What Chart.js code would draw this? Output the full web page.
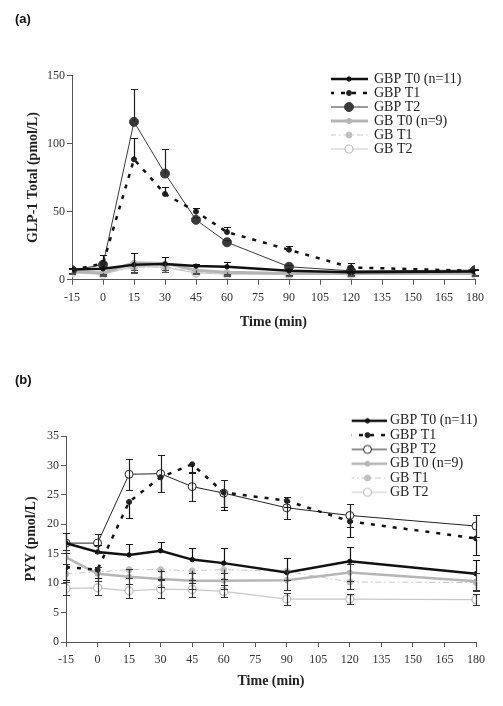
<!DOCTYPE html>
<html><head><meta charset="utf-8">
<script src="https://cdn.jsdelivr.net/npm/chart.js@4.4.1/dist/chart.umd.min.js"></script>
<style>
html,body{margin:0;padding:0;background:#fff;}
#wrap{position:relative;width:503px;height:706px;overflow:hidden;background:#fff;}
.box{position:absolute;left:0;width:503px;}
#boxA{top:0;height:340px;}
#boxB{top:340px;height:366px;}
canvas{display:block;}
</style></head><body>
<div id="wrap">
<div class="box" id="boxA"><canvas id="cA" width="503" height="340"></canvas></div>
<div class="box" id="boxB"><canvas id="cB" width="503" height="366"></canvas></div>
</div>
<script>
// ---- Data ----
const times = [-15, 0, 15, 30, 45, 60, 90, 120, 180];
const seriesLabels = ['GBP T0 (n=11)', 'GBP T1', 'GBP T2', 'GB T0 (n=9)', 'GB T1', 'GB T2'];

// (a) GLP-1 Total (pmol/L)
const glpGbpT0 = [7.5, 8, 11, 11.5, 10, 9.5, 6.5, 5.5, 6];
const glpGbpT1 = [7, 12, 88.5, 63, 50, 35, 22, 9, 6.5];
const glpGbpT2 = [7, 11, 116, 78, 44, 27.5, 9.5, 6.5, 7];
const glpGbT0  = [6, 5, 12.5, 12, 7, 5.5, 4.5, 4.5, 4.5];
const glpGbT1  = [5.5, 4.5, 9, 9.5, 5.5, 4.5, 4, 4, 4];
const glpGbT2  = [5, 4, 10, 9, 5, 4, 4, 4, 4];
const glpErrGbpT0 = [1, 1, 8.5, 5.5, 1.5, 3.5, 1, 1, 1];
const glpErrGbpT1 = [1, 6, 16, 5, 3, 4, 3, 3.5, 1];
const glpErrGbpT2 = [1, 2, 24.5, 18, 2, 2, 1.5, 1, 1];
const glpErrGbT0  = [1, 1, 7, 5, 2, 1.5, 1, 1, 1];
const glpErrGbT1  = [1, 1, 4, 4, 1, 1, 1, 1, 1];
const glpErrGbT2  = [1, 1, 3, 3, 1, 1, 1, 1, 1];

// (b) PYY (pmol/L)
const pyyGbpT0 = [16.8, 15.3, 14.8, 15.5, 14.0, 13.4, 11.8, 13.7, 11.6];
const pyyGbpT1 = [12.7, 12.3, 23.8, 28.0, 30.2, 25.4, 24.0, 20.5, 17.6];
const pyyGbpT2 = [16.8, 16.8, 28.5, 28.6, 26.4, 25.3, 22.8, 21.5, 19.7];
const pyyGbT0  = [14.4, 11.6, 11.1, 10.7, 10.4, 10.4, 10.5, 11.8, 10.3];
const pyyGbT1  = [11.6, 11.9, 12.3, 12.3, 12.1, 12.3, 12.0, 10.2, 10.1];
const pyyGbT2  = [9.1, 9.2, 8.7, 9.0, 8.9, 8.6, 7.3, 7.3, 7.2];
const pyyErrGbpT0 = [1.7, 1.2, 1.8, 1.5, 2.0, 2.5, 2.4, 2.5, 2.4];
const pyyErrGbpT1 = [2.2, 1.5, 2.8, 2.5, 1.5, 3.0, 1.0, 2.7, 2.8];
const pyyErrGbpT2 = [1.7, 1.6, 2.6, 3.1, 2.4, 2.3, 1.9, 1.9, 1.8];
const pyyErrGbT0  = [1.2, 1.2, 1.3, 1.4, 1.4, 1.4, 1.6, 1.4, 1.5];
const pyyErrGbT1  = [1.4, 1.5, 1.5, 1.6, 1.6, 1.6, 1.5, 1.2, 1.4];
const pyyErrGbT2  = [1.1, 1.2, 1.2, 1.5, 1.2, 1.0, 1.0, 0.8, 0.9];

// ---- Helpers ----
const SERIF = "'Liberation Serif', 'Times New Roman', serif";
const pts = arr => times.map((t, i) => ({x: t, y: arr[i]}));

function makeIcon(ds, w) {
  const c = document.createElement('canvas');
  c.width = w; c.height = 12;
  const g = c.getContext('2d');
  g.strokeStyle = ds.borderColor; g.lineWidth = ds.borderWidth;
  g.setLineDash(ds.borderDash || []);
  g.beginPath(); g.moveTo(0, 6); g.lineTo(w, 6); g.stroke();
  g.setLineDash([]);
  if (ds.pointRadius > 0) {
    g.beginPath(); g.arc(w / 2, 6, ds.pointRadius, 0, Math.PI * 2);
    g.fillStyle = ds.pointBackgroundColor; g.fill();
    g.lineWidth = ds.pointBorderWidth || 1; g.strokeStyle = ds.pointBorderColor; g.stroke();
  }
  return c;
}

const errorBars = {
  id: 'errorBars',
  afterDatasetsDraw(chart) {
    const ctx = chart.ctx, xs = chart.scales.x, ys = chart.scales.y;
    chart.data.datasets.forEach((ds, i) => {
      if (!ds.errors) return;
      ctx.save();
      ctx.strokeStyle = ds.errorColor || '#222';
      ctx.lineWidth = 1.2;
      ds.data.forEach((p, j) => {
        const e = ds.errors[j]; if (!e) return;
        const x = Math.round(xs.getPixelForValue(p.x)) + 0.5;
        const y = ys.getPixelForValue(p.y);
        const dirs = ds.errorDir === 'both' ? [1, -1] : ds.errorDir === 'down' ? [-1] : [1];
        dirs.forEach(d => {
          const ye = Math.round(ys.getPixelForValue(p.y + d * e)) + 0.5;
          ctx.beginPath();
          ctx.moveTo(x, y); ctx.lineTo(x, ye);
          ctx.moveTo(x - 3.5, ye); ctx.lineTo(x + 3.5, ye);
          ctx.stroke();
        });
      });
      ctx.restore();
    });
  }
};

const legendPlace = {
  id: 'legendPlace',
  afterLayout(chart, args, opts) {
    const lg = chart.legend; if (!lg) return;
    const w = lg.width;
    lg.left = opts.left; lg.top = opts.top;
    lg.right = opts.left + w; lg.bottom = opts.top + 200;
  }
};

function makeChart(id, datasets, cfg) {
  const icons = datasets.map(ds => makeIcon(ds, cfg.iconW));
  return new Chart(document.getElementById(id), {
    type: 'line',
    data: {datasets},
    plugins: [errorBars, legendPlace],
    options: {
      responsive: false, animation: false, events: [],
      layout: {padding: cfg.padding},
      elements: {line: {tension: 0}},
      scales: {
        x: {
          type: 'linear', min: -15, max: 180,
          ticks: {stepSize: 15, autoSkip: false, maxRotation: 0, padding: 6, color: '#333',
                  font: {family: SERIF, size: 12}},
          grid: {display: true, drawOnChartArea: false, drawTicks: true, tickLength: 5, color: '#555'},
          border: {display: true, color: '#555', width: 1},
          title: {display: true, text: 'Time (min)', color: '#222',
                  font: {family: SERIF, size: 14, weight: 'bold'}, padding: cfg.xTitlePad}
        },
        y: {
          min: 0, max: cfg.yMax,
          ticks: {stepSize: cfg.yStep, padding: 2, color: '#333', font: {family: SERIF, size: 12}},
          grid: {display: true, drawOnChartArea: false, drawTicks: true, tickLength: 5, color: '#555'},
          border: {display: true, color: '#555', width: 1},
          title: {display: true, text: cfg.yTitle, color: '#222',
                  font: {family: SERIF, size: 14, weight: 'bold'}, padding: {top: cfg.yTitlePad, bottom: 0}},
          afterFit(scale) { scale.width = cfg.yWidth; }
        }
      },
      plugins: {
        title: {display: true, text: cfg.panel, align: 'start', color: '#111',
                font: {family: "'Liberation Sans', Arial, sans-serif", size: 13, weight: 'bold'},
                padding: cfg.panelPad},
        legend: {
          display: true, position: 'chartArea', align: 'start',
          labels: {
            usePointStyle: true, pointStyleWidth: cfg.boxW, padding: cfg.legPad,
            color: '#222', font: {family: SERIF, size: 14},
            generateLabels(chart) {
              const items = Chart.defaults.plugins.legend.labels.generateLabels(chart);
              items.forEach(it => { it.pointStyle = icons[it.datasetIndex]; it.fontColor = '#222'; it.lineWidth = 0; });
              return items;
            }
          }
        },
        legendPlace: {left: cfg.legLeft, top: cfg.legTop},
        tooltip: {enabled: false}
      }
    }
  });
}

function ds(label, data, errs, dir, style) {
  return Object.assign({
    label, data: pts(data), errors: errs, errorDir: dir,
    fill: false, borderDash: [], pointStyle: 'circle', pointBorderWidth: 1
  }, style);
}

// ---- (a) ----
makeChart('cA', [
  ds(seriesLabels[0], glpGbpT0, glpErrGbpT0, 'up', {borderColor: '#111', borderWidth: 2.5, pointRadius: 2.2, pointBackgroundColor: '#111', pointBorderColor: '#111', errorColor: '#111'}),
  ds(seriesLabels[1], glpGbpT1, glpErrGbpT1, 'up', {borderColor: '#111', borderWidth: 2.5, borderDash: [4, 7], pointRadius: 2.5, pointBackgroundColor: '#222', pointBorderColor: '#222', errorColor: '#111'}),
  ds(seriesLabels[2], glpGbpT2, glpErrGbpT2, 'up', {borderColor: '#3a3a3a', borderWidth: 1, pointRadius: 4.5, pointBackgroundColor: '#3a3a3a', pointBorderColor: '#3a3a3a', errorColor: '#222'}),
  ds(seriesLabels[3], glpGbT0, glpErrGbT0, 'down', {borderColor: '#b5b5b5', borderWidth: 3, pointRadius: 2.5, pointBackgroundColor: '#b5b5b5', pointBorderColor: '#b5b5b5', errorColor: '#444'}),
  ds(seriesLabels[4], glpGbT1, glpErrGbT1, 'down', {borderColor: '#c8c8c8', borderWidth: 1, borderDash: [6, 3, 1.5, 3], pointRadius: 3, pointBackgroundColor: '#c0c0c0', pointBorderColor: '#c0c0c0', errorColor: '#555'}),
  ds(seriesLabels[5], glpGbT2, glpErrGbT2, 'down', {borderColor: '#c8c8c8', borderWidth: 1.2, pointRadius: 4, pointBackgroundColor: '#fff', pointBorderColor: '#bdbdbd', pointBorderWidth: 1.2, errorColor: '#555'})
], {
  panel: '(a)', panelPad: {top: 12, bottom: 48},
  padding: {left: 15, right: 28, top: 0, bottom: 7.1},
  yMax: 150, yStep: 50, yTitle: 'GLP-1 Total (pmol/L)', yTitlePad: 9.6, yWidth: 57,
  xTitlePad: {top: 3, bottom: 2},
  iconW: 38, boxW: 36, legPad: 0, legLeft: 331, legTop: 72
});

// ---- (b) ----
makeChart('cB', [
  ds(seriesLabels[0], pyyGbpT0, pyyErrGbpT0, 'up', {borderColor: '#111', borderWidth: 2.5, pointRadius: 2.2, pointBackgroundColor: '#111', pointBorderColor: '#111', errorColor: '#111'}),
  ds(seriesLabels[1], pyyGbpT1, pyyErrGbpT1, 'down', {borderColor: '#111', borderWidth: 2.5, borderDash: [4, 7], pointRadius: 2.5, pointBackgroundColor: '#222', pointBorderColor: '#222', errorColor: '#111'}),
  ds(seriesLabels[2], pyyGbpT2, pyyErrGbpT2, 'both', {borderColor: '#222', borderWidth: 1, pointRadius: 4, pointBackgroundColor: '#fff', pointBorderColor: '#222', pointBorderWidth: 1, errorColor: '#222'}),
  ds(seriesLabels[3], pyyGbT0, pyyErrGbT0, 'both', {borderColor: '#b5b5b5', borderWidth: 2.5, pointRadius: 2.5, pointBackgroundColor: '#b5b5b5', pointBorderColor: '#b5b5b5', errorColor: '#333'}),
  ds(seriesLabels[4], pyyGbT1, pyyErrGbT1, 'down', {borderColor: '#c8c8c8', borderWidth: 1, borderDash: [6, 3, 1.5, 3], pointRadius: 3, pointBackgroundColor: '#c0c0c0', pointBorderColor: '#c0c0c0', errorColor: '#333'}),
  ds(seriesLabels[5], pyyGbT2, pyyErrGbT2, 'both', {borderColor: '#c8c8c8', borderWidth: 1.2, pointRadius: 4, pointBackgroundColor: '#fff', pointBorderColor: '#bdbdbd', pointBorderWidth: 1.2, errorColor: '#333'})
], {
  panel: '(b)', panelPad: {top: 32.2, bottom: 48.2},
  padding: {left: 15, right: 27, top: 0, bottom: 13.8},
  yMax: 35, yStep: 5, yTitle: 'PYY (pmol/L)', yTitlePad: 8.1, yWidth: 51,
  xTitlePad: {top: 0, bottom: 2},
  iconW: 39, boxW: 31, legPad: 0.3, legLeft: 351.7, legTop: 73.5
});
</script>
</body></html>
